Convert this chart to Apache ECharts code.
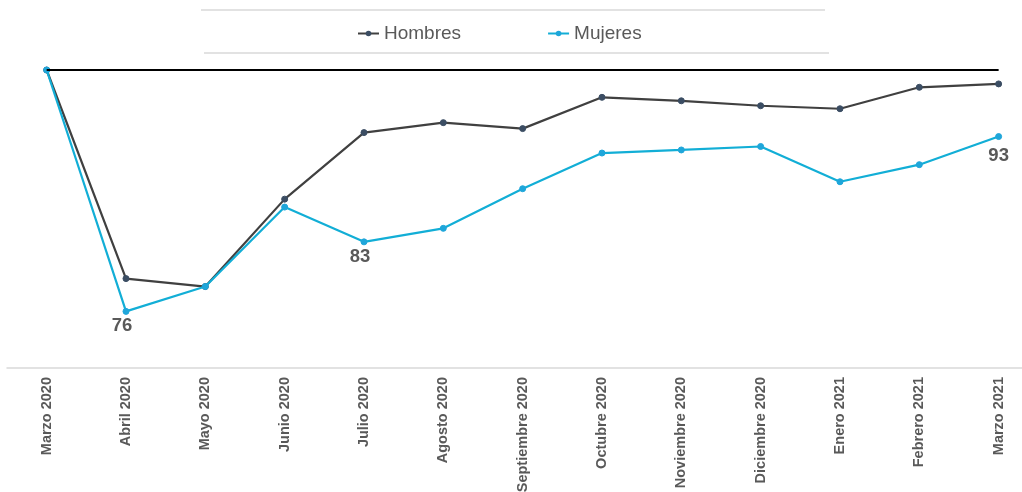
<!DOCTYPE html>
<html>
<head>
<meta charset="utf-8">
<script src="https://cdn.jsdelivr.net/npm/echarts@6/dist/echarts.min.js"></script>
<style>
html,body{margin:0;padding:0;background:#fff;}
#chart{width:1022px;height:492px;}
</style>
</head>
<body>
<div id="chart"></div>
<script>
const categories = ['Marzo 2020','Abril 2020','Mayo 2020','Junio 2020','Julio 2020','Agosto 2020','Septiembre 2020','Octubre 2020','Noviembre 2020','Diciembre 2020','Enero 2021','Febrero 2021','Marzo 2021'];
const hombres = [100, 79.0, 78.2, 87.0, 93.7, 94.7, 94.1, 97.25, 96.9, 96.4, 96.1, 98.26, 98.6];
const mujeres = [100, 75.7, 78.2, 86.2, 82.7, 84.06, 88.05, 91.64, 91.95, 92.3, 88.75, 90.47, 93.3];
const labeledMujeres = {1: '76', 4: '83', 12: '93'};
const baseValue = 100;

const FONT = '"Liberation Sans", Arial, sans-serif';
const TXT = '#595959';

const mujeresData = mujeres.map((v, i) => {
  if (labeledMujeres[i] === undefined) return v;
  const last = i === mujeres.length - 1;
  return {
    value: v,
    label: {
      show: true,
      position: 'bottom',
      distance: last ? 6 : 2,
      offset: last ? [0, 0] : [-4, 0],
      formatter: labeledMujeres[i],
      color: TXT,
      fontFamily: FONT,
      fontWeight: 'bold',
      fontSize: 18.5
    }
  };
});

const chart = echarts.init(document.getElementById('chart'));
chart.setOption({
  animation: false,
  backgroundColor: '#fff',
  graphic: [
    { type: 'line', shape: { x1: 201, y1: 10, x2: 825, y2: 10 }, style: { stroke: '#d9d9d9', lineWidth: 1.5 } },
    { type: 'line', shape: { x1: 204, y1: 53, x2: 829, y2: 53 }, style: { stroke: '#d9d9d9', lineWidth: 1.5 } }
  ],
  legend: {
    left: 357,
    top: 24,
    padding: 0,
    itemWidth: 21,
    itemHeight: 7,
    itemGap: 86,
    textStyle: { color: TXT, fontFamily: FONT, fontSize: 19 },
    data: ['Hombres', 'Mujeres']
  },
  grid: { left: 7, top: 70, width: 1031.3, height: 298, containLabel: false, outerBoundsMode: 'none' },
  xAxis: {
    type: 'category',
    data: categories,
    boundaryGap: true,
    axisLine: { lineStyle: { color: '#d9d9d9', width: 1.5 } },
    axisTick: { show: false },
    axisLabel: {
      rotate: 90,
      interval: 0,
      margin: 9,
      color: TXT,
      fontFamily: FONT,
      fontWeight: 'bold',
      fontSize: 14.5
    }
  },
  yAxis: {
    type: 'value',
    min: 70,
    max: 100,
    show: false,
    splitLine: { show: false }
  },
  series: [
    {
      name: 'Hombres',
      type: 'line',
      data: hombres,
      symbol: 'circle',
      symbolSize: 6,
      clip: false,
      z: 3,
      lineStyle: { color: '#404040', width: 2.2 },
      itemStyle: { color: '#3b4d63', borderColor: '#3b4d63' },
      markLine: {
        silent: true,
        symbol: ['none', 'none'],
        label: { show: false },
        lineStyle: { color: '#000', width: 2.2, type: 'solid' },
        data: [[
          { xAxis: categories[0], yAxis: baseValue },
          { xAxis: categories[categories.length - 1], yAxis: baseValue }
        ]]
      }
    },
    {
      name: 'Mujeres',
      type: 'line',
      data: mujeresData,
      symbol: 'circle',
      symbolSize: 6,
      clip: false,
      z: 4,
      lineStyle: { color: '#12aed6', width: 2.2 },
      itemStyle: { color: '#1fa6da', borderColor: '#1fa6da' }
    }
  ]
});
</script>
</body>
</html>
